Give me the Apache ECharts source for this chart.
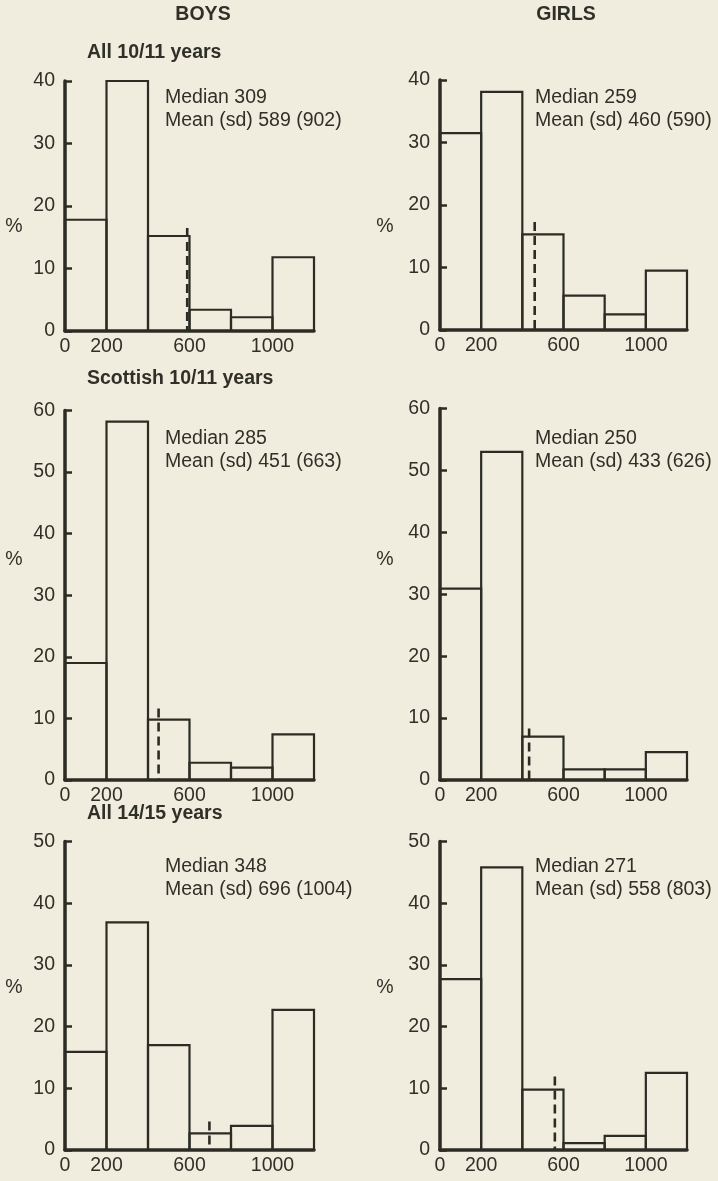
<!DOCTYPE html>
<html>
<head>
<meta charset="utf-8">
<style>
  html, body { margin: 0; padding: 0; background: #f0edde; }
  #chart { width: 718px; height: 1181px; }
</style>
<script src="https://cdn.jsdelivr.net/npm/echarts@6/dist/echarts.min.js"></script>
</head>
<body>
<div id="chart"></div>
<script>
// Bin edges shared by all six histograms (same units on every x axis)
const binEdges = [0, 200, 400, 600, 800, 1000, 1200];
const xTickLabels = [0, 200, 600, 1000];

// Percentages per bin
const boysAll1011   = [17.8, 40.0, 15.2, 3.4, 2.2, 11.8];
const girlsAll1011  = [31.5, 38.1, 15.3, 5.5, 2.5, 9.5];
const boysScot1011  = [19.0, 58.2, 9.8, 2.8, 2.0, 7.4];
const girlsScot1011 = [30.9, 53.0, 7.0, 1.7, 1.7, 4.5];
const boysAll1415   = [15.9, 36.9, 17.0, 2.7, 3.9, 22.7];
const girlsAll1415  = [27.7, 45.8, 9.8, 1.1, 2.3, 12.5];

// Summary statistics, in panel order (boys/girls per row)
const medians = [309, 259, 285, 250, 348, 271];
const means   = [589, 460, 451, 433, 696, 558];
const sds     = [902, 590, 663, 626, 1004, 803];
// Height reached by the dashed mean marker (in %)
const meanMarkTop = [16.5, 17.3, 11.6, 8.3, 4.6, 11.9];
// Upper limit of each % axis
const yMax = [40, 40, 60, 60, 50, 50];

const columnTitles = ['BOYS', 'GIRLS'];
const rowTitles = ['All 10/11 years', 'Scottish 10/11 years', 'All 14/15 years'];

const panels = [boysAll1011, girlsAll1011, boysScot1011, girlsScot1011, boysAll1415, girlsAll1415];

const INK = '#2c2c25';
const TXT = '#303029';
const FONT = '"Liberation Sans", Arial, Helvetica, sans-serif';
const FS = 19.5;

// Plot frames: column x extent and row y extent
const cols = [{ left: 65, width: 249 }, { left: 440, width: 247 }];
const rows = [
  [{ top: 81, height: 250 }, { top: 80, height: 250 }],
  [{ top: 410.5, height: 369.5 }, { top: 408.5, height: 371.5 }],
  [{ top: 841.5, height: 308.5 }, { top: 841.5, height: 308.5 }]
];

const grids = [], xAxes = [], yAxes = [], series = [], graphics = [];

panels.forEach((vals, p) => {
  const r = Math.floor(p / 2), c = p % 2;
  grids.push({
    left: cols[c].left, width: cols[c].width,
    top: rows[r][c].top, height: rows[r][c].height,
    containLabel: false, outerBoundsMode: 'none'
  });
  xAxes.push({
    gridIndex: p, type: 'value', min: 0, max: binEdges[binEdges.length - 1], interval: 200,
    axisLine: { show: true, onZero: true, lineStyle: { color: INK, width: 3.5 } },
    axisTick: { show: false },
    splitLine: { show: false },
    axisLabel: {
      color: TXT, fontSize: FS, fontFamily: FONT, margin: 6,
      formatter: v => (xTickLabels.indexOf(v) >= 0 ? String(v) : '')
    }
  });
  yAxes.push({
    gridIndex: p, type: 'value', min: 0, max: yMax[p], interval: 10,
    axisLine: { show: true, lineStyle: { color: INK, width: 3.5 } },
    axisTick: { show: true, inside: true, length: 7, lineStyle: { color: INK, width: 2.5 } },
    splitLine: { show: false },
    axisLabel: { color: TXT, fontSize: FS, fontFamily: FONT, margin: 10 }
  });

  // Histogram bars: open rectangles spanning each bin
  series.push({
    type: 'custom', xAxisIndex: p, yAxisIndex: p, silent: true, z: 3,
    encode: { x: [0, 1], y: 2 },
    data: vals.map((v, i) => [binEdges[i], binEdges[i + 1], v]),
    renderItem: (params, api) => {
      const a = api.coord([api.value(0), api.value(2)]);
      const b = api.coord([api.value(1), 0]);
      return {
        type: 'rect',
        shape: { x: a[0], y: a[1], width: b[0] - a[0], height: b[1] - a[1] },
        style: { fill: 'none', stroke: INK, lineWidth: 2.2 }
      };
    }
  });

  // Dashed marker at the mean
  series.push({
    type: 'line', xAxisIndex: p, yAxisIndex: p, silent: true, z: 4,
    symbol: 'none',
    lineStyle: { color: INK, width: 2.6, type: [9, 5] },
    data: [[means[p], meanMarkTop[p]], [means[p], 0]]
  });

  // Median / mean (sd) annotation and % axis name
  const annX = c === 0 ? 165 : 535;
  const annY = [97.5, 439, 867][r];
  graphics.push({
    type: 'text', left: annX, top: annY - 11.5,
    style: {
      text: 'Median ' + medians[p] + '\nMean (sd) ' + means[p] + ' (' + sds[p] + ')',
      fill: TXT, font: FS + 'px ' + FONT, lineHeight: 23
    }
  });
  const pctY = [227, 560, 988][r];
  graphics.push({
    type: 'text', x: c === 0 ? 14 : 385, y: pctY,
    style: { text: '%', fill: TXT, font: FS + 'px ' + FONT, align: 'center', verticalAlign: 'middle' }
  });
});

// Column headings
graphics.push({ type: 'text', x: 203, y: 15,
  style: { text: columnTitles[0], fill: TXT, font: 'bold ' + FS + 'px ' + FONT, align: 'center', verticalAlign: 'middle' } });
graphics.push({ type: 'text', x: 566, y: 15,
  style: { text: columnTitles[1], fill: TXT, font: 'bold ' + FS + 'px ' + FONT, align: 'center', verticalAlign: 'middle' } });
// Row headings
[53, 379, 814].forEach((y, r) => {
  graphics.push({ type: 'text', x: 87, y: y,
    style: { text: rowTitles[r], fill: TXT, font: 'bold ' + FS + 'px ' + FONT, align: 'left', verticalAlign: 'middle' } });
});

const chart = echarts.init(document.getElementById('chart'), null, { renderer: 'canvas' });
chart.setOption({
  backgroundColor: '#f0edde',
  animation: false,
  grid: grids,
  xAxis: xAxes,
  yAxis: yAxes,
  series: series,
  graphic: graphics
});
</script>
</body>
</html>
